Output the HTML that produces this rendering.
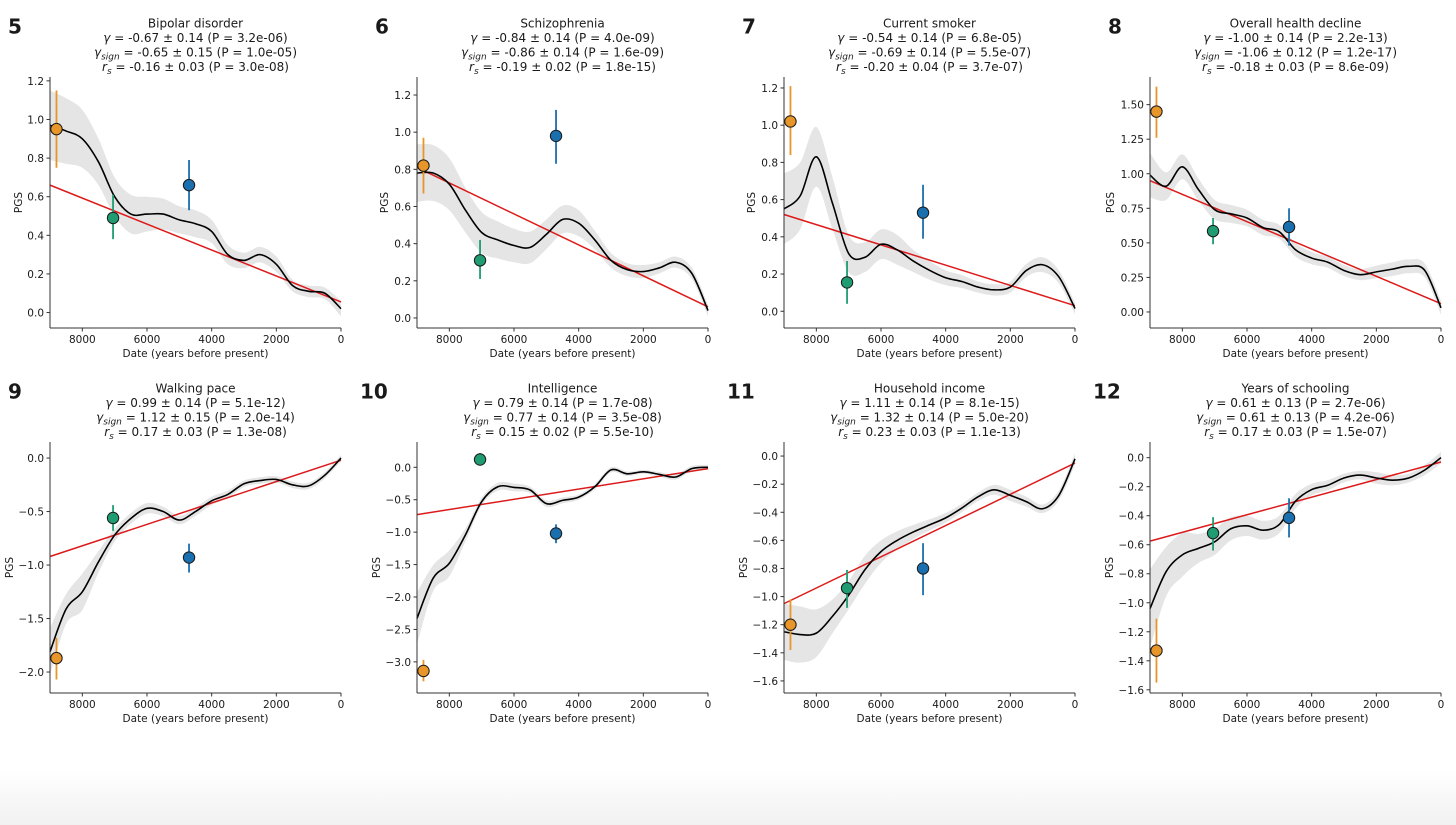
<!DOCTYPE html>
<html><head><meta charset="utf-8">
<style>
html,body{margin:0;padding:0;background:#fff;}
#wrap{position:relative;width:1456px;height:825px;overflow:hidden;background:#fff;}
#fade{position:absolute;left:0;top:770px;width:1456px;height:55px;background:linear-gradient(#fff,#f1f1f1);}
svg{position:absolute;left:0;top:0;}
text{font-family:"DejaVu Sans","Liberation Sans",sans-serif;fill:#1a1a1a;}
</style></head>
<body>
<div id="wrap">
<div id="fade"></div>
<svg id="fig" width="1456" height="825" viewBox="0 0 1456 825"></svg>
</div>
<script>
const years=[9000,8500,8000,7500,7000,6500,6000,5500,5000,4500,4000,3500,3000,2500,2000,1500,1000,500,0];
const pointYears=[8800,7050,4700];
const pointColors=["#e8952a","#1f9c72","#1a6fae"];

const titles5=["Bipolar disorder","-0.67 ± 0.14 (P = 3.2e-06)","-0.65 ± 0.15 (P = 1.0e-05)","-0.16 ± 0.03 (P = 3.0e-08)"];
const curve5=[0.97,0.94,0.90,0.78,0.60,0.51,0.51,0.51,0.48,0.46,0.42,0.30,0.27,0.30,0.25,0.14,0.11,0.10,0.02];
const band5=[0.18,0.17,0.15,0.12,0.10,0.10,0.09,0.08,0.07,0.07,0.06,0.05,0.04,0.04,0.04,0.03,0.03,0.03,0.04];
const pts5=[0.95,0.49,0.66];const lo5=[0.75,0.38,0.53];const hi5=[1.15,0.61,0.79];const fit5=[0.66,0.055];

const titles6=["Schizophrenia","-0.84 ± 0.14 (P = 4.0e-09)","-0.86 ± 0.14 (P = 1.6e-09)","-0.19 ± 0.02 (P = 1.8e-15)"];
const curve6=[0.78,0.78,0.72,0.58,0.46,0.42,0.39,0.38,0.45,0.53,0.51,0.42,0.31,0.26,0.25,0.27,0.30,0.24,0.04];
const band6=[0.155,0.15,0.14,0.12,0.11,0.10,0.09,0.085,0.08,0.075,0.07,0.05,0.04,0.035,0.035,0.03,0.03,0.03,0.03];
const pts6=[0.82,0.31,0.98];const lo6=[0.67,0.21,0.83];const hi6=[0.97,0.42,1.12];const fit6=[0.81,0.06];

const titles7=["Current smoker","-0.54 ± 0.14 (P = 6.8e-05)","-0.69 ± 0.14 (P = 5.5e-07)","-0.20 ± 0.04 (P = 3.7e-07)"];
const curve7=[0.55,0.62,0.83,0.58,0.31,0.29,0.36,0.33,0.27,0.22,0.18,0.16,0.13,0.115,0.13,0.22,0.25,0.185,0.015];
const band7=[0.19,0.18,0.16,0.14,0.10,0.08,0.08,0.08,0.06,0.05,0.04,0.035,0.03,0.03,0.03,0.035,0.04,0.035,0.03];
const pts7=[1.02,0.155,0.53];const lo7=[0.84,0.04,0.39];const hi7=[1.21,0.27,0.68];const fit7=[0.52,0.03];

const titles8=["Overall health decline","-1.00 ± 0.14 (P = 2.2e-13)","-1.06 ± 0.12 (P = 1.2e-17)","-0.18 ± 0.03 (P = 8.6e-09)"];
const curve8=[0.99,0.91,1.05,0.885,0.74,0.71,0.68,0.61,0.58,0.45,0.39,0.36,0.30,0.27,0.29,0.31,0.33,0.30,0.03];
const band8=[0.16,0.10,0.09,0.08,0.07,0.065,0.06,0.055,0.05,0.05,0.045,0.04,0.04,0.04,0.045,0.05,0.05,0.05,0.05];
const pts8=[1.45,0.585,0.615];const lo8=[1.26,0.49,0.48];const hi8=[1.63,0.68,0.75];const fit8=[0.95,0.06];

const titles9=["Walking pace","0.99 ± 0.14 (P = 5.1e-12)","1.12 ± 0.15 (P = 2.0e-14)","0.17 ± 0.03 (P = 1.3e-08)"];
const curve9=[-1.81,-1.41,-1.25,-0.97,-0.72,-0.565,-0.47,-0.50,-0.58,-0.50,-0.40,-0.34,-0.24,-0.21,-0.20,-0.25,-0.26,-0.16,0.0];
const band9=[0.22,0.14,0.17,0.10,0.06,0.05,0.05,0.045,0.04,0.04,0.04,0.035,0.03,0.03,0.03,0.03,0.03,0.03,0.03];
const pts9=[-1.87,-0.56,-0.93];const lo9=[-2.07,-0.68,-1.07];const hi9=[-1.68,-0.44,-0.80];const fit9=[-0.92,-0.02];

const titles10=["Intelligence","0.79 ± 0.14 (P = 1.7e-08)","0.77 ± 0.14 (P = 3.5e-08)","0.15 ± 0.02 (P = 5.5e-10)"];
const curve10=[-2.33,-1.71,-1.48,-1.04,-0.53,-0.30,-0.31,-0.35,-0.56,-0.51,-0.46,-0.30,-0.04,-0.10,-0.07,-0.11,-0.15,-0.02,0.0];
const band10=[0.40,0.20,0.20,0.10,0.06,0.06,0.06,0.05,0.05,0.045,0.04,0.04,0.04,0.035,0.03,0.035,0.04,0.04,0.04];
const pts10=[-3.14,0.12,-1.02];const lo10=[-3.30,0.03,-1.17];const hi10=[-2.97,0.22,-0.88];const fit10=[-0.73,-0.02];

const titles11=["Household income","1.11 ± 0.14 (P = 8.1e-15)","1.32 ± 0.14 (P = 5.0e-20)","0.23 ± 0.03 (P = 1.1e-13)"];
const curve11=[-1.25,-1.27,-1.26,-1.14,-0.99,-0.81,-0.68,-0.60,-0.54,-0.49,-0.44,-0.37,-0.29,-0.24,-0.28,-0.325,-0.375,-0.28,-0.02];
const band11=[0.20,0.20,0.17,0.12,0.10,0.10,0.08,0.065,0.05,0.04,0.035,0.03,0.03,0.035,0.04,0.035,0.03,0.035,0.04];
const pts11=[-1.20,-0.94,-0.80];const lo11=[-1.38,-1.08,-0.99];const hi11=[-1.02,-0.81,-0.62];const fit11=[-1.05,-0.05];

const titles12=["Years of schooling","0.61 ± 0.13 (P = 2.7e-06)","0.61 ± 0.13 (P = 4.2e-06)","0.17 ± 0.03 (P = 1.5e-07)"];
const curve12=[-1.04,-0.785,-0.67,-0.625,-0.58,-0.49,-0.47,-0.50,-0.46,-0.30,-0.22,-0.19,-0.14,-0.12,-0.14,-0.155,-0.14,-0.085,0.0];
const band12=[0.27,0.17,0.15,0.10,0.09,0.08,0.07,0.065,0.06,0.05,0.04,0.035,0.03,0.03,0.04,0.035,0.03,0.035,0.04];
const pts12=[-1.33,-0.52,-0.415];const lo12=[-1.55,-0.64,-0.55];const hi12=[-1.11,-0.41,-0.28];const fit12=[-0.575,-0.03];

const yticks5=[0,0.2,0.4,0.6,0.8,1.0,1.2];
const yticks8=[0,0.25,0.5,0.75,1.0,1.25,1.5];
const yticks9=[0,-0.5,-1.0,-1.5,-2.0];
const yticks10=[0,-0.5,-1.0,-1.5,-2.0,-2.5,-3.0];
const yticks11=[0,-0.2,-0.4,-0.6,-0.8,-1.0,-1.2,-1.4,-1.6];
const xticks=[8000,6000,4000,2000,0];

const panels=[
 {n:"5",L:50,T:77,B:328,ylim:[-0.08,1.22],yt:yticks5,dec:1,t:titles5,c:curve5,b:band5,p:pts5,lo:lo5,hi:hi5,f:fit5,yo:32},
 {n:"6",L:417,T:77,B:328,ylim:[-0.054,1.297],yt:yticks5,dec:1,t:titles6,c:curve6,b:band6,p:pts6,lo:lo6,hi:hi6,f:fit6,yo:33},
 {n:"7",L:784,T:77,B:328,ylim:[-0.09,1.259],yt:yticks5,dec:1,t:titles7,c:curve7,b:band7,p:pts7,lo:lo7,hi:hi7,f:fit7,yo:33},
 {n:"8",L:1150,T:77,B:328,ylim:[-0.116,1.70],yt:yticks8,dec:2,t:titles8,c:curve8,b:band8,p:pts8,lo:lo8,hi:hi8,f:fit8,yo:40},
 {n:"9",L:50,T:442,B:693,ylim:[-2.196,0.15],yt:yticks9,dec:1,t:titles9,c:curve9,b:band9,p:pts9,lo:lo9,hi:hi9,f:fit9,yo:41},
 {n:"10",L:417,T:442,B:693,ylim:[-3.48,0.39],yt:yticks10,dec:1,t:titles10,c:curve10,b:band10,p:pts10,lo:lo10,hi:hi10,f:fit10,yo:41},
 {n:"11",L:784,T:442,B:693,ylim:[-1.686,0.10],yt:yticks11,dec:1,t:titles11,c:curve11,b:band11,p:pts11,lo:lo11,hi:hi11,f:fit11,yo:41},
 {n:"12",L:1150,T:442,B:693,ylim:[-1.622,0.108],yt:yticks11,dec:1,t:titles12,c:curve12,b:band12,p:pts12,lo:lo12,hi:hi12,f:fit12,yo:41}
];
const W=291;
const NS="http://www.w3.org/2000/svg";
const svg=document.getElementById("fig");
function mk(tag,attrs,parent){const e=document.createElementNS(NS,tag);for(const k in attrs)e.setAttribute(k,attrs[k]);(parent||svg).appendChild(e);return e;}
function spline(pts){let d="M"+pts[0][0].toFixed(2)+","+pts[0][1].toFixed(2);
 for(let i=0;i<pts.length-1;i++){const p0=pts[Math.max(0,i-1)],p1=pts[i],p2=pts[i+1],p3=pts[Math.min(pts.length-1,i+2)];
  const c1=[p1[0]+(p2[0]-p0[0])/6,p1[1]+(p2[1]-p0[1])/6],c2=[p2[0]-(p3[0]-p1[0])/6,p2[1]-(p3[1]-p1[1])/6];
  d+="C"+c1[0].toFixed(2)+","+c1[1].toFixed(2)+" "+c2[0].toFixed(2)+","+c2[1].toFixed(2)+" "+p2[0].toFixed(2)+","+p2[1].toFixed(2);}
 return d;}
function fmt(v,dec){const s=Math.abs(v).toFixed(dec);return (v<-1e-9?"\u2212":"")+s;}

panels.forEach(P=>{
 const g=mk("g",{});
 
 
 const xs=yr=>P.L+(9000-yr)/9000*W;
 const ys=v=>P.B-(v-P.ylim[0])/(P.ylim[1]-P.ylim[0])*(P.B-P.T);
 const cx=P.L+W/2, t0=P.T<200?27.5:392.5;
 const num=mk("text",{x:P.L-42,y:t0+6,"font-size":20,"font-weight":"bold",fill:"#000"},g);
 num.textContent=P.n;
 
 
 if(P.n.length>1)num.setAttribute("x",P.L-57);
 const tt=mk("text",{x:cx,y:t0,"text-anchor":"middle","font-size":12},g);
 tt.textContent=P.t[0];
 
 
 const l1=mk("text",{x:cx,y:t0+14.5,"text-anchor":"middle","font-size":12},g);
 l1.innerHTML='<tspan font-style="italic">\u03b3</tspan> = '+P.t[1];
 
 
 const l2=mk("text",{x:cx,y:t0+29,"text-anchor":"middle","font-size":12},g);
 l2.innerHTML='<tspan font-style="italic">\u03b3</tspan><tspan font-size="9" font-style="italic" dy="3">sign</tspan><tspan dy="-3"> = '+P.t[2]+'</tspan>';
 
 
 const l3=mk("text",{x:cx,y:t0+43.5,"text-anchor":"middle","font-size":12},g);
 l3.innerHTML='<tspan font-style="italic">r</tspan><tspan font-size="9" font-style="italic" dy="3">s</tspan><tspan dy="-3"> = '+P.t[3]+'</tspan>';
 
 
 const up=years.map((y,i)=>[xs(y),ys(P.c[i]+P.b[i])]);
 const dn=years.map((y,i)=>[xs(y),ys(P.c[i]-P.b[i])]).reverse();
 const bd=spline(up)+"L"+spline(dn).slice(1)+"Z";
 const band=mk("path",{d:bd,fill:"#e5e5e5",stroke:"none"},g);
 
 
 const fl=mk("line",{x1:xs(9000),y1:ys(P.f[0]),x2:xs(0),y2:ys(P.f[1]),stroke:"#dd1a1a","stroke-width":1.5},g);
 
 
 const cv=mk("path",{d:spline(years.map((y,i)=>[xs(y),ys(P.c[i])])),fill:"none",stroke:"#000","stroke-width":1.6},g);
 
 
 pointYears.forEach((yr,i)=>{
  const eb=mk("line",{x1:xs(yr),x2:xs(yr),y1:ys(P.lo[i]),y2:ys(P.hi[i]),stroke:pointColors[i],"stroke-width":1.8},g);
  
  
  const c=mk("circle",{cx:xs(yr),cy:ys(P.p[i]),r:5.7,fill:pointColors[i],stroke:"#1a1a1a","stroke-width":1},g);
  
  
 });
 const ya=mk("line",{x1:P.L,x2:P.L,y1:P.T,y2:P.B,stroke:"#333","stroke-width":1},g);
 
 
 const xa=mk("line",{x1:P.L,x2:P.L+W,y1:P.B,y2:P.B,stroke:"#333","stroke-width":1},g);
 
 
 P.yt.forEach(v=>{
  const y=ys(v);
  mk("line",{x1:P.L-3.5,x2:P.L,y1:y,y2:y,stroke:"#333","stroke-width":1},g);
  const tl=mk("text",{x:P.L-6,y:y+4,"text-anchor":"end","font-size":10.5,fill:"#262626"},g);
  tl.textContent=fmt(v,P.dec);
  
  
 });
 xticks.forEach(v=>{
  const x=xs(v);
  mk("line",{x1:x,x2:x,y1:P.B,y2:P.B+3.5,stroke:"#333","stroke-width":1},g);
  const tl=mk("text",{x:x,y:P.B+15,"text-anchor":"middle","font-size":10.5,fill:"#262626"},g);
  tl.textContent=String(v);
  
  
 });
 const xl=mk("text",{x:cx,y:P.B+29,"text-anchor":"middle","font-size":10.5,fill:"#262626"},g);
 xl.textContent="Date (years before present)";
 
 
 const ymid=(P.T+P.B)/2, yx=P.L-P.yo+4;
 const yl=mk("text",{x:yx,y:ymid,"text-anchor":"middle","font-size":10.5,fill:"#262626",transform:"rotate(-90 "+yx+" "+ymid+")"},g);
 yl.textContent="PGS";
 
 
});
</script>
</body></html>
